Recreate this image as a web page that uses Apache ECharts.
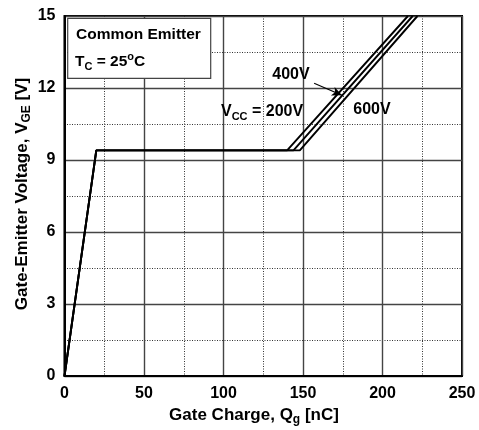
<!DOCTYPE html>
<html>
<head>
<meta charset="utf-8">
<script src="https://cdn.jsdelivr.net/npm/echarts@6/dist/echarts.min.js"></script>
<style>
  html, body { margin: 0; padding: 0; background: #fff; }
  #chart { width: 479px; height: 430px; }
</style>
</head>
<body>
<div id="chart"></div>
<script>
// Gate charge curves (Qg in nC, VGE in V) for three supply voltages
const curve200V = [[0, 0], [20, 9.4], [140, 9.4], [216, 15]];
const curve400V = [[0, 0], [20, 9.4], [144, 9.4], [219, 15]];
const curve600V = [[0, 0], [20, 9.4], [148, 9.4], [222, 15]];

// Leader arrow for the 400V label, in data coordinates
const arrow400V = [[157, 12.2], [174.5, 11.7]];

const xTicks = { min: 0, max: 250, step: 50 };
const yTicks = { min: 0, max: 15, step: 3 };

const FONT = '"Liberation Sans", Arial, Helvetica, sans-serif';

const chart = echarts.init(document.getElementById('chart'), null, { renderer: 'canvas' });

const lineSeries = (name, data, extra) => Object.assign({
  name: name,
  type: 'line',
  data: data,
  symbol: 'none',
  clip: true,
  lineStyle: { color: '#000', width: 1.9 },
  z: 5
}, extra || {});

const titleRich = {
  a: { font: 'bold 17px ' + FONT, fill: '#000', lineHeight: 22, verticalAlign: 'middle' },
  sub: { font: 'bold 12px ' + FONT, fill: '#000', verticalAlign: 'bottom', height: 13 }
};

const option = {
  animation: false,
  backgroundColor: '#fff',
  grid: {
    left: 64.5, right: 17, top: 16, bottom: 54,
    show: true, borderColor: '#000', borderWidth: 2
  },
  xAxis: {
    type: 'value',
    min: xTicks.min, max: xTicks.max, interval: xTicks.step,
    axisLine: { show: true, lineStyle: { color: '#000', width: 2 } },
    axisTick: { show: false },
    axisLabel: { color: '#000', fontFamily: FONT, fontWeight: 'bold', fontSize: 16, margin: 10 },
    splitLine: { show: true, lineStyle: { color: '#444', width: 1.4 } },
    minorTick: { show: false, splitNumber: 2 },
    minorSplitLine: { show: true, lineStyle: { color: '#333', width: 1, type: [1, 1.5] } }
  },
  yAxis: {
    type: 'value',
    min: yTicks.min, max: yTicks.max, interval: yTicks.step,
    axisLine: { show: true, lineStyle: { color: '#000', width: 2 } },
    axisTick: { show: false },
    axisLabel: { color: '#000', fontFamily: FONT, fontWeight: 'bold', fontSize: 16, margin: 9 },
    splitLine: { show: true, lineStyle: { color: '#444', width: 1.4 } },
    minorTick: { show: false, splitNumber: 2 },
    minorSplitLine: { show: true, lineStyle: { color: '#333', width: 1, type: [1, 1.5] } }
  },
  series: [
    lineSeries('200V', curve200V),
    lineSeries('400V', curve400V, {
      markLine: {
        silent: true,
        symbol: ['none', 'arrow'],
        symbolSize: [7, 10],
        label: { show: false },
        lineStyle: { color: '#000', width: 1.2, type: 'solid' },
        itemStyle: { color: '#000' },
        data: [[{ coord: arrow400V[0] }, { coord: arrow400V[1] }]]
      }
    }),
    lineSeries('600V', curve600V)
  ],
  graphic: [
    // Condition box
    {
      type: 'rect', z: 10,
      shape: { x: 67.7, y: 18.3, width: 143, height: 60 },
      style: { fill: '#fff', stroke: '#444', lineWidth: 1.2 }
    },
    {
      type: 'text', z: 11, x: 76, y: 35,
      style: {
        text: 'Common Emitter', fill: '#000',
        font: 'bold 15.5px ' + FONT, textVerticalAlign: 'middle'
      }
    },
    {
      type: 'text', z: 11, x: 75, y: 62,
      style: {
        text: '{a|T}{sub|C}{a| = 25}{sup|o}{a|C}',
        textVerticalAlign: 'middle',
        rich: {
          a: { font: 'bold 15.5px ' + FONT, fill: '#000', lineHeight: 22, verticalAlign: 'middle' },
          sub: { font: 'bold 11px ' + FONT, fill: '#000', verticalAlign: 'bottom', height: 13 },
          sup: { font: 'bold 11px ' + FONT, fill: '#000', verticalAlign: 'top', height: 12 }
        }
      }
    },
    // Curve labels
    {
      type: 'text', z: 11, x: 291, y: 75,
      style: { text: '400V', fill: '#000', font: 'bold 16px ' + FONT, textAlign: 'center', textVerticalAlign: 'middle' }
    },
    {
      type: 'text', z: 11, x: 372, y: 110,
      style: { text: '600V', fill: '#000', font: 'bold 16px ' + FONT, textAlign: 'center', textVerticalAlign: 'middle' }
    },
    {
      type: 'text', z: 11, x: 221, y: 112,
      style: {
        text: '{a|V}{sub|CC}{a| = 200V}',
        textVerticalAlign: 'middle',
        rich: {
          a: { font: 'bold 16px ' + FONT, fill: '#000', lineHeight: 22, verticalAlign: 'middle' },
          sub: { font: 'bold 11px ' + FONT, fill: '#000', verticalAlign: 'bottom', height: 13 }
        }
      }
    },
    // Axis titles
    {
      type: 'text', z: 11, x: 254, y: 415,
      style: {
        text: '{a|Gate Charge, Q}{sub|g}{a| [nC]}',
        textAlign: 'center', textVerticalAlign: 'middle',
        rich: titleRich
      }
    },
    {
      type: 'text', z: 11, x: 22, y: 194, rotation: Math.PI / 2,
      style: {
        text: '{a|Gate-Emitter Voltage, V}{sub|GE}{a| [V]}',
        textAlign: 'center', textVerticalAlign: 'middle',
        rich: titleRich
      }
    }
  ]
};

chart.setOption(option);
</script>
</body>
</html>
